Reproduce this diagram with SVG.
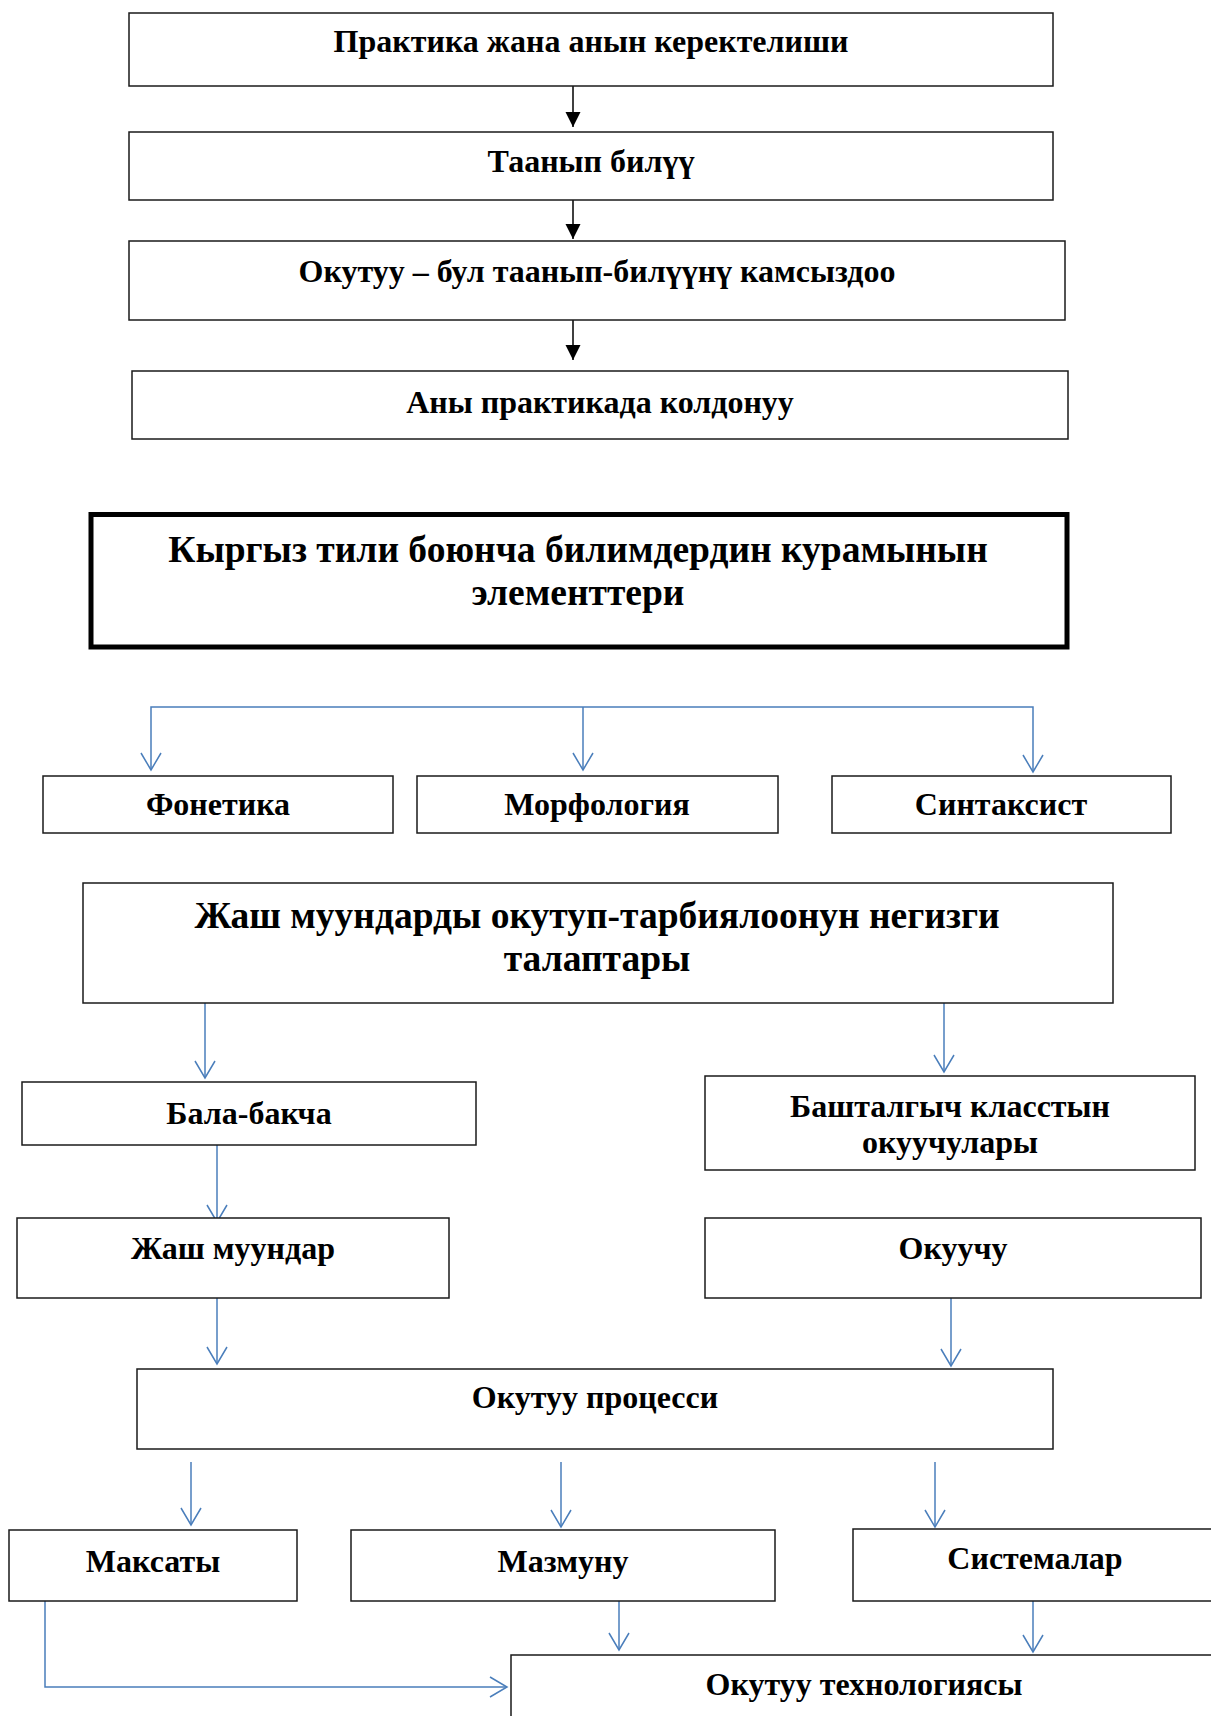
<svg xmlns="http://www.w3.org/2000/svg" width="1211" height="1716" viewBox="0 0 1211 1716">
<style>
.box{fill:#fff;stroke:#1a1a1a;stroke-width:1.5}
.thick{fill:#fff;stroke:#000;stroke-width:5}
.t{font-family:"Liberation Serif","Times New Roman",serif;font-weight:bold;fill:#000;text-anchor:middle}
.s32{font-size:32px}
.s37{font-size:37.5px}
.bk{fill:none;stroke:#000;stroke-width:1.5}
.bl{fill:none;stroke:#4a7ebb;stroke-width:1.5}
</style>
<defs>
<marker id="ab" markerUnits="userSpaceOnUse" markerWidth="16" markerHeight="16" refX="15" refY="7.5" orient="auto" overflow="visible">
<path d="M0,0 L15,7.5 L0,15 z" fill="#000"/>
</marker>
<marker id="av" markerUnits="userSpaceOnUse" markerWidth="20" markerHeight="22" refX="17" refY="10" orient="auto" overflow="visible">
<path d="M0,0 L17,10 L0,20" fill="none" stroke="#4a7ebb" stroke-width="1.5"/>
</marker>
</defs>
<rect width="1211" height="1716" fill="#fff"/>
<g id="connectors">
<path class="bk" d="M573,86 V127" marker-end="url(#ab)"/>
<path class="bk" d="M573,200 V239" marker-end="url(#ab)"/>
<path class="bk" d="M573,320 V360" marker-end="url(#ab)"/>
<path class="bl" d="M583,707 H151 V770" marker-end="url(#av)"/>
<path class="bl" d="M583,707 V770" marker-end="url(#av)"/>
<path class="bl" d="M583,707 H1033 V772" marker-end="url(#av)"/>
<path class="bl" d="M205,1003 V1078" marker-end="url(#av)"/>
<path class="bl" d="M944,1003 V1072" marker-end="url(#av)"/>
<path class="bl" d="M217,1145 V1222" marker-end="url(#av)"/>
<path class="bl" d="M217,1298 V1364" marker-end="url(#av)"/>
<path class="bl" d="M951,1298 V1366" marker-end="url(#av)"/>
<path class="bl" d="M191,1462 V1525" marker-end="url(#av)"/>
<path class="bl" d="M561,1462 V1527" marker-end="url(#av)"/>
<path class="bl" d="M935,1462 V1527" marker-end="url(#av)"/>
<path class="bl" d="M619,1601 V1650" marker-end="url(#av)"/>
<path class="bl" d="M1033,1601 V1652" marker-end="url(#av)"/>
<path class="bl" d="M45,1601 V1687 H507" stroke-width="2.2" marker-end="url(#av)"/>
</g>
<g id="n1"><rect class="box" x="129" y="13" width="924" height="73"/><text class="t s32" x="591" y="52">Практика жана анын керектелиши</text></g>
<g id="n2"><rect class="box" x="129" y="132" width="924" height="68"/><text class="t s32" x="591" y="172">Таанып билүү</text></g>
<g id="n3"><rect class="box" x="129" y="241" width="936" height="79"/><text class="t s32" x="597" y="282">Окутуу – бул таанып-билүүнү камсыздоо</text></g>
<g id="n4"><rect class="box" x="132" y="371" width="936" height="68"/><text class="t s32" x="600" y="413">Аны практикада колдонуу</text></g>
<g id="n5"><rect class="thick" x="91" y="514.5" width="976" height="132.5"/><text class="t s37" x="578" y="562">Кыргыз тили боюнча билимдердин курамынын</text><text class="t s37" x="578" y="605">элементтери</text></g>
<g id="n6"><rect class="box" x="43" y="776" width="350" height="57"/><text class="t s32" x="218" y="815">Фонетика</text></g>
<g id="n7"><rect class="box" x="417" y="776" width="361" height="57"/><text class="t s32" x="597" y="815">Морфология</text></g>
<g id="n8"><rect class="box" x="832" y="776" width="339" height="57"/><text class="t s32" x="1001" y="815">Синтаксист</text></g>
<g id="n9"><rect class="box" x="83" y="883" width="1030" height="120"/><text class="t s37" x="597" y="928">Жаш муундарды окутуп-тарбиялоонун негизги</text><text class="t s37" x="597" y="971">талаптары</text></g>
<g id="n10"><rect class="box" x="22" y="1082" width="454" height="63"/><text class="t s32" x="249" y="1124">Бала-бакча</text></g>
<g id="n11"><rect class="box" x="705" y="1076" width="490" height="94"/><text class="t s32" x="950" y="1117">Башталгыч класстын</text><text class="t s32" x="950" y="1153">окуучулары</text></g>
<g id="n12"><rect class="box" x="17" y="1218" width="432" height="80"/><text class="t s32" x="233" y="1259">Жаш муундар</text></g>
<g id="n13"><rect class="box" x="705" y="1218" width="496" height="80"/><text class="t s32" x="953" y="1259">Окуучу</text></g>
<g id="n14"><rect class="box" x="137" y="1369" width="916" height="80"/><text class="t s32" x="595" y="1408">Окутуу процесси</text></g>
<g id="n15"><rect class="box" x="9" y="1530" width="288" height="71"/><text class="t s32" x="153" y="1572">Максаты</text></g>
<g id="n16"><rect class="box" x="351" y="1530" width="424" height="71"/><text class="t s32" x="563" y="1572">Мазмуну</text></g>
<g id="n17"><rect class="box" x="853" y="1529" width="370" height="72"/><text class="t s32" x="1035" y="1569">Системалар</text></g>
<g id="n18"><rect class="box" x="511" y="1655" width="710" height="80"/><text class="t s32" x="864" y="1695">Окутуу технологиясы</text></g>
</svg>
